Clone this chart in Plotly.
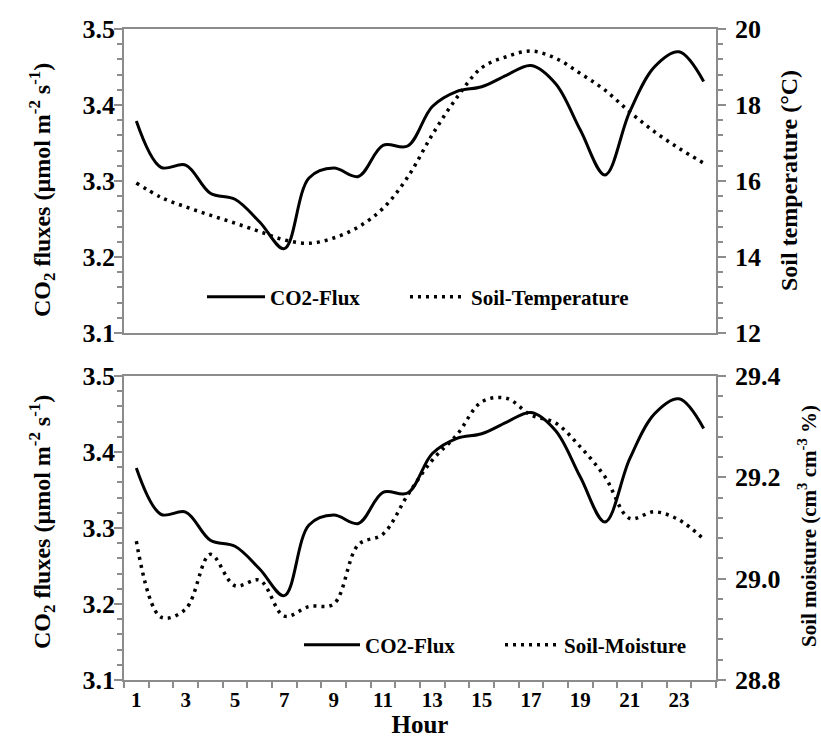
import plotly.graph_objects as go

hours = list(range(1, 25))
co2_flux = [3.379, 3.318, 3.321, 3.284, 3.276, 3.246, 3.211, 3.304, 3.317, 3.306, 3.347, 3.346,
            3.398, 3.418, 3.424, 3.439, 3.452, 3.428, 3.367, 3.308, 3.391, 3.450, 3.470, 3.431]
soil_temp = [15.95, 15.57, 15.32, 15.10, 14.89, 14.67, 14.45, 14.36, 14.50, 14.79, 15.28, 16.10,
             17.22, 18.20, 18.98, 19.27, 19.42, 19.23, 18.83, 18.39, 17.82, 17.30, 16.86, 16.47]
soil_moist = [29.074, 28.924, 28.940, 29.048, 28.986, 28.997, 28.926, 28.945, 28.950, 29.067, 29.088, 29.165,
              29.234, 29.284, 29.349, 29.356, 29.323, 29.307, 29.260, 29.201, 29.119, 29.132, 29.116, 29.078]
x_ticks = list(range(1, 24, 2))

W, H = 821, 738
FONT = "Liberation Serif, Times New Roman, serif"
AX = "#8c8c8c"

def px_x(p):
    return p / W

def px_y(p):
    return 1 - p / H

solid = dict(color="black", width=3, shape="spline")
dotted = dict(color="black", width=3.5, shape="spline", dash="3px,5px")

fig = go.Figure()
fig.add_trace(go.Scatter(x=hours, y=co2_flux, name="CO2-Flux", mode="lines", line=solid,
                         xaxis="x", yaxis="y", legend="legend"))
fig.add_trace(go.Scatter(x=hours, y=soil_temp, name="Soil-Temperature", mode="lines", line=dotted,
                         xaxis="x", yaxis="y2", legend="legend2"))
fig.add_trace(go.Scatter(x=hours, y=co2_flux, name="CO2-Flux", mode="lines", line=solid,
                         xaxis="x2", yaxis="y3", legend="legend3"))
fig.add_trace(go.Scatter(x=hours, y=soil_moist, name="Soil-Moisture", mode="lines", line=dotted,
                         xaxis="x2", yaxis="y4", legend="legend4"))

xdom = [px_x(124), px_x(716)]
top_dom = [px_y(333), px_y(29)]
bot_dom = [px_y(680), px_y(376)]

tickfont = dict(family=FONT, size=26, color="black", weight="bold")
common_y = dict(showline=True, linecolor=AX, linewidth=1.5, ticks="outside", ticklen=8,
                tickcolor=AX, tickwidth=1.5, showgrid=False, zeroline=False, tickfont=tickfont,
                automargin=False)

legfont = dict(family=FONT, size=21, color="black", weight="bold")

def leg(xp, yp, iw):
    return dict(orientation="h", x=px_x(xp), y=px_y(yp), xanchor="left", yanchor="middle",
                bgcolor="rgba(0,0,0,0)", itemwidth=iw, font=legfont)

fig.update_layout(
    template="none",
    width=W, height=H, margin=dict(l=0, r=0, t=0, b=0, autoexpand=False),
    paper_bgcolor="white", plot_bgcolor="white",
    xaxis=dict(domain=xdom, anchor="y", range=[0.5, 24.5], showline=True, linecolor=AX, linewidth=1.5,
               mirror=True, showticklabels=False, ticks="", showgrid=False, zeroline=False, automargin=False),
    yaxis=dict(domain=top_dom, anchor="x", range=[3.1, 3.5], dtick=0.1, tickformat=".1f", ticklabelstandoff=-6,
               minor=dict(dtick=0.02, ticks="outside", ticklen=5, tickcolor=AX, tickwidth=1.5, showgrid=False),
               **common_y),
    yaxis2=dict(overlaying="y", side="right", anchor="x", range=[12, 20], dtick=2, ticklabelstandoff=4,
                minor=dict(dtick=0.4, ticks="outside", ticklen=5, tickcolor=AX, tickwidth=1.5, showgrid=False),
                **common_y),
    xaxis2=dict(domain=xdom, anchor="y3", range=[0.5, 24.5], showline=True, linecolor=AX, linewidth=1.5,
                mirror=True, tickvals=x_ticks, ticktext=[str(v) for v in x_ticks], ticks="",
                tickfont=dict(family=FONT, size=21, color="black", weight="bold"), ticklabelstandoff=0,
                minor=dict(tick0=0.5, dtick=1, ticks="outside", ticklen=6, tickcolor=AX, tickwidth=1.5,
                           showgrid=False),
                showgrid=False, zeroline=False, automargin=False,
                title=dict(text="Hour", font=dict(family=FONT, size=25, color="black", weight="bold"), standoff=2)),
    yaxis3=dict(domain=bot_dom, anchor="x2", range=[3.1, 3.5], dtick=0.1, tickformat=".1f", ticklabelstandoff=-6,
                minor=dict(dtick=0.02, ticks="outside", ticklen=5, tickcolor=AX, tickwidth=1.5, showgrid=False),
                **common_y),
    yaxis4=dict(overlaying="y3", side="right", anchor="x2", range=[28.8, 29.4], dtick=0.2, tickformat=".1f",
                ticklabelstandoff=4,
                minor=dict(dtick=0.04, ticks="outside", ticklen=5, tickcolor=AX, tickwidth=1.5, showgrid=False),
                **common_y),
    legend=leg(202, 297, 58),
    legend2=leg(405, 297, 56),
    legend3=leg(299, 645, 56),
    legend4=leg(500, 645, 54),
    showlegend=True,
)

title_font = dict(family=FONT, size=24, color="black", weight="bold")
ann = dict(xref="paper", yref="paper", textangle=-90, showarrow=False, xanchor="center", yanchor="middle")
fig.add_annotation(text="CO<sub>2</sub> fluxes (µmol m<sup>-2</sup> s<sup>-1</sup>)", x=px_x(42), y=px_y(190),
                   font=title_font, **ann)
fig.add_annotation(text="CO<sub>2</sub> fluxes (µmol m<sup>-2</sup> s<sup>-1</sup>)", x=px_x(42), y=px_y(522),
                   font=title_font, **ann)
fig.add_annotation(text="Soil temperature (°C)", x=px_x(789), y=px_y(181), font=title_font, **ann)
fig.add_annotation(text="Soil moisture (cm<sup>3</sup> cm<sup>-3</sup> %)", x=px_x(807), y=px_y(526),
                   font=dict(family=FONT, size=21, color="black", weight="bold"), **ann)

fig.write_html("out.html")
